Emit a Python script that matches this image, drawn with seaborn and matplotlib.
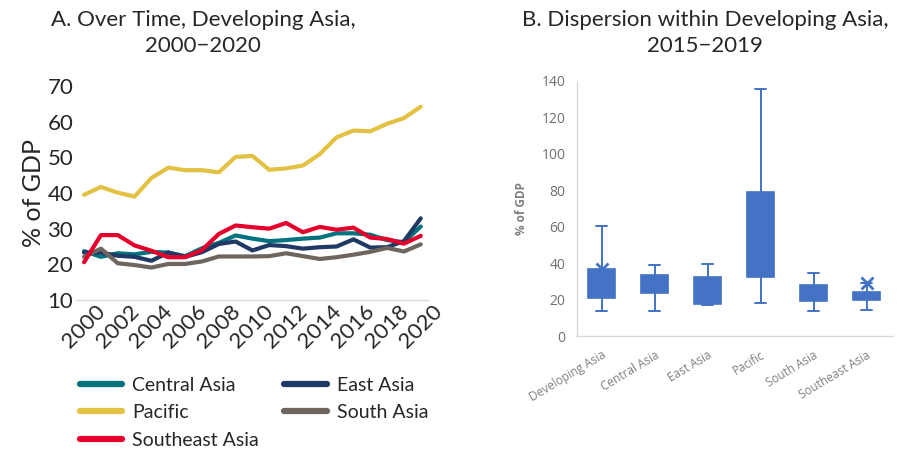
import matplotlib
matplotlib.use("Agg")
import matplotlib.pyplot as plt
import seaborn as sns
import pandas as pd
import numpy as np

# ---------------- data ----------------
years = list(range(2000, 2021))
central_asia = [23.7, 22.1, 23.1, 22.8, 23.5, 23.3, 22.3, 24.5, 26.0, 28.1, 27.2,
                26.5, 26.8, 27.2, 27.5, 28.7, 28.7, 28.3, 26.8, 26.2, 30.6]
east_asia = [23.3, 23.3, 22.4, 22.1, 21.0, 23.3, 22.1, 23.4, 25.7, 26.4, 23.9,
             25.4, 25.1, 24.4, 24.8, 25.0, 27.0, 24.7, 24.8, 26.5, 32.9]
pacific = [39.5, 41.7, 40.1, 39.0, 44.2, 47.1, 46.4, 46.4, 45.8, 50.1, 50.4,
           46.5, 46.9, 47.7, 50.9, 55.6, 57.5, 57.3, 59.4, 61.0, 64.2]
south_asia = [22.1, 24.4, 20.3, 19.8, 19.1, 20.1, 20.1, 20.8, 22.2, 22.2, 22.2,
              22.3, 23.1, 22.3, 21.5, 22.0, 22.7, 23.5, 24.6, 23.6, 25.6]
southeast_asia = [20.6, 28.2, 28.2, 25.3, 23.8, 22.0, 22.0, 24.0, 28.5, 30.9, 30.4,
                  30.0, 31.6, 29.0, 30.5, 29.7, 30.3, 27.5, 27.1, 25.8, 28.0]

series_names = ["Central Asia", "East Asia", "Pacific", "South Asia", "Southeast Asia"]
series_values = [central_asia, east_asia, pacific, south_asia, southeast_asia]
series_colors = ["#00737F", "#1F3864", "#E3C143", "#6E665E", "#E4002B"]

box_groups = ["Developing Asia", "Central Asia", "East Asia", "Pacific", "South Asia", "Southeast Asia"]
box_low = [13.7, 13.7, 17.0, 18.1, 13.7, 14.3]
box_q1 = [20.8, 23.8, 17.7, 32.5, 19.4, 19.9]
box_med = [27.0, 28.0, 24.0, 50.0, 23.0, 22.0]
box_q3 = [36.6, 33.6, 32.2, 78.8, 27.8, 24.0]
box_high = [60.3, 38.8, 39.5, 135.6, 34.4, 29.2]
box_mean = [36.8, 29.0, 25.0, 55.0, 24.0, 29.2]

# ---------------- figure ----------------
sns.set_style("white")
plt.rcParams["font.family"] = ["Lato", "DejaVu Sans"]
GRAY_FONT = ["Open Sans", "DejaVu Sans"]

fig = plt.figure(figsize=(9.17, 4.53), dpi=100)

# Panel A
axA = fig.add_axes([76 / 917, (453 - 300) / 453, 352 / 917, (300 - 86) / 453])
df = pd.DataFrame({
    "year": np.tile(years, len(series_names)),
    "value": np.concatenate(series_values),
    "region": np.repeat(series_names, len(years)),
})
sns.lineplot(data=df, x="year", y="value", hue="region", hue_order=series_names,
             palette=dict(zip(series_names, series_colors)), linewidth=3.0,
             ax=axA, legend=False)
axA.set_xlim(1999.52, 2020.43)
axA.set_ylim(10, 70)
axA.set_xticks(list(range(2000, 2021, 2)))
axA.set_yticks(list(range(10, 71, 10)))
axA.tick_params(axis="x", labelsize=16, rotation=45, length=0, pad=1)
axA.tick_params(axis="y", labelsize=16, length=0, pad=2)
for lab in axA.get_xticklabels():
    lab.set_ha("center")
axA.set_xlabel("")
axA.set_ylabel("% of GDP", fontsize=18, labelpad=2)
for s in ["top", "right", "left"]:
    axA.spines[s].set_visible(False)
axA.spines["bottom"].set_color("#d9d9d9")
axA.spines["bottom"].set_linewidth(1.0)

handles = [plt.Line2D([0], [0], color=c, lw=4.5, solid_capstyle="round") for c in series_colors]
order = [0, 2, 4, 1, 3]
fig.legend([handles[i] for i in order], [series_names[i] for i in order],
           ncol=2, loc="upper left", bbox_to_anchor=(64 / 917, 1 - 361 / 453),
           frameon=False, fontsize=14, handlelength=2.2, handletextpad=0.5,
           columnspacing=1.3, labelspacing=0.55, borderpad=0.3)

fig.text(203 / 917, 1 - 10 / 453, "A. Over Time, Developing Asia,\n2000\u22122020",
         ha="center", va="top", fontsize=16, linespacing=1.35)
fig.text(705 / 917, 1 - 10 / 453, "B. Dispersion within Developing Asia,\n2015\u22122019",
         ha="center", va="top", fontsize=16, linespacing=1.35)

# Panel B
axB = fig.add_axes([576.7 / 917, (453 - 336) / 453, 316.3 / 917, (336 - 80.7) / 453])
box_color = "#4472C4"
stats = []
for i, g in enumerate(box_groups):
    stats.append(dict(label=g, whislo=box_low[i], q1=box_q1[i], med=box_med[i],
                      q3=box_q3[i], whishi=box_high[i], mean=box_mean[i], fliers=[]))
axB.bxp(stats, positions=list(range(len(box_groups))), widths=0.5, patch_artist=True,
        showmeans=True, capwidths=0.2,
        boxprops=dict(facecolor=box_color, edgecolor=box_color, linewidth=1.2),
        medianprops=dict(color=box_color, linewidth=1.2),
        whiskerprops=dict(color=box_color, linewidth=1.4),
        capprops=dict(color=box_color, linewidth=1.4),
        meanprops=dict(marker="x", markeredgecolor=box_color, markersize=8, markeredgewidth=2))
axB.set_xlim(-0.47, 5.5)
axB.set_ylim(0, 140)
axB.set_yticks(list(range(0, 141, 20)))
axB.set_xticks(list(range(len(box_groups))))
axB.set_xticklabels(box_groups, rotation=31, ha="right", va="top", rotation_mode="anchor",
                    fontsize=8.5, color="#808080", family=GRAY_FONT)
axB.tick_params(axis="x", length=0, pad=9)
axB.tick_params(axis="y", length=0, labelsize=10, labelcolor="#6f6f6f", pad=8)
for lab in axB.get_yticklabels():
    lab.set_family(GRAY_FONT)
axB.set_ylabel("% of GDP", fontsize=8.5, color="#7f7f7f", fontweight="bold",
               family=GRAY_FONT, labelpad=10)
for s in ["top", "right"]:
    axB.spines[s].set_visible(False)
for s in ["left", "bottom"]:
    axB.spines[s].set_color("#d9d9d9")
    axB.spines[s].set_linewidth(1.0)

fig.savefig("out.png", dpi=100)
